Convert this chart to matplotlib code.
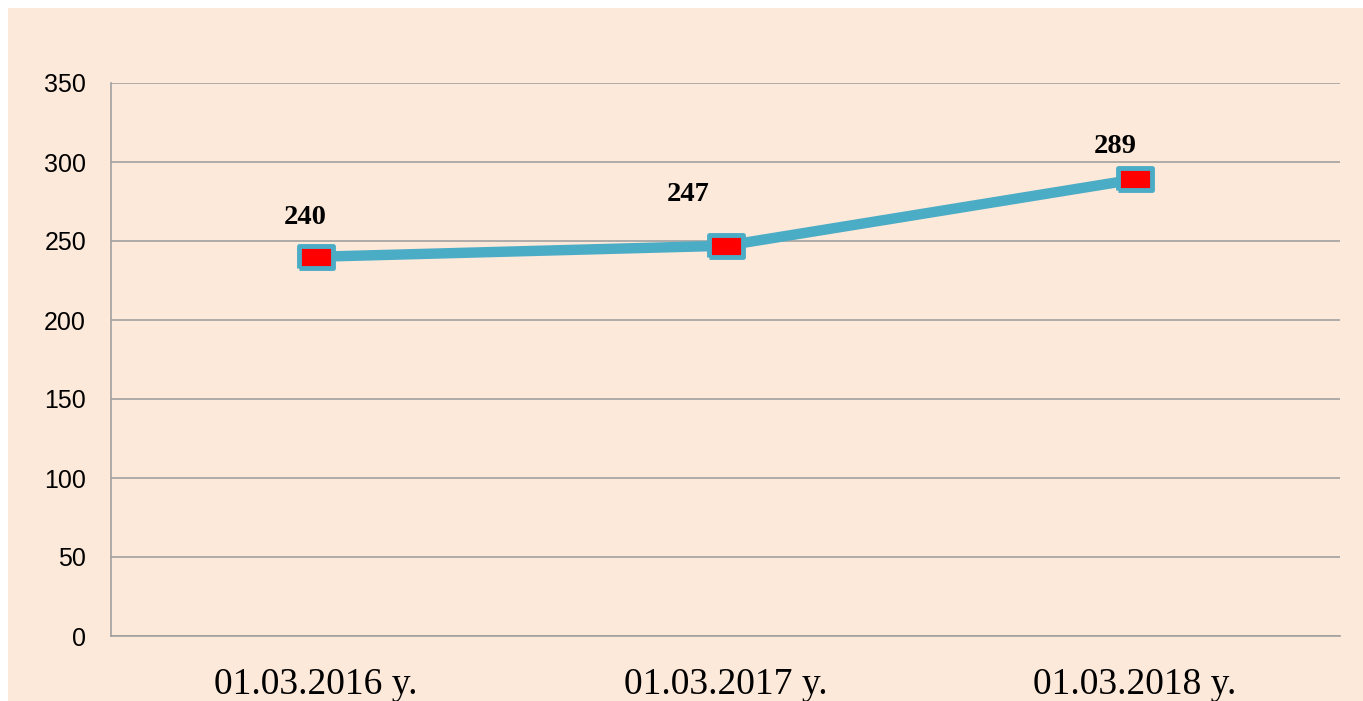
import matplotlib
matplotlib.use("Agg")
import matplotlib.pyplot as plt
from matplotlib.patches import Rectangle

dates = ['01.03.2016 y.', '01.03.2017 y.', '01.03.2018 y.']
values = [240, 247, 289]
yticks = [0, 50, 100, 150, 200, 250, 300, 350]

bg = '#FDE9D9'
line_col = '#4BACC6'

fig = plt.figure(figsize=(13.63, 7.01), dpi=100)
fig.patch.set_facecolor(bg)
# thin white margin on top and left, as in the screenshot
fig.add_artist(Rectangle((0, 0), 8 / 1363, 1, transform=fig.transFigure,
                         facecolor='white', edgecolor='none', zorder=5))
fig.add_artist(Rectangle((0, 1 - 8 / 701), 1, 8 / 701, transform=fig.transFigure,
                         facecolor='white', edgecolor='none', zorder=5))

ax = fig.add_axes([111 / 1363, 1 - 636 / 701, (1340 - 111) / 1363, (636 - 83) / 701])
ax.set_facecolor(bg)

x = list(range(len(dates)))
rect = [(-1.55, -1), (1.55, -1), (1.55, 1), (-1.55, 1), (-1.55, -1)]
ax.plot(x, values, color=line_col, lw=7.5, solid_joinstyle='round', zorder=3,
        marker=rect, markersize=25, markerfacecolor='red',
        markeredgecolor=line_col, markeredgewidth=3.5)

# label offsets in points
offs = [(-8, 28), (-27, 37), (-14, 24)]
for xi, v, o in zip(x, values, offs):
    ax.annotate(str(v), (xi, v), xytext=o, textcoords='offset points',
                ha='center', va='center', fontsize=20.5, fontweight='bold',
                family='Liberation Serif', color='black')

ax.set_xlim(-0.5, 2.5)
ax.set_ylim(0, 350)
ax.set_yticks(yticks)
ax.set_xticks(x)
ax.set_xticklabels(dates, family='Liberation Serif', fontsize=27)
for t in ax.get_yticklabels():
    t.set_family('Liberation Sans')
    t.set_fontsize(18)
ax.tick_params(axis='y', length=0, pad=18)
ax.tick_params(axis='x', length=0, pad=23)

ax.grid(axis='y', color='#A0A0A0', lw=1.2, zorder=1)
ax.set_axisbelow(True)
for s in ['top', 'right']:
    ax.spines[s].set_visible(False)
ax.spines['left'].set_color('#A0A0A0')
ax.spines['bottom'].set_color('#A0A0A0')
ax.spines['left'].set_linewidth(1.2)
ax.spines['bottom'].set_linewidth(1.2)

fig.savefig('out.png', dpi=100, facecolor=fig.get_facecolor())
